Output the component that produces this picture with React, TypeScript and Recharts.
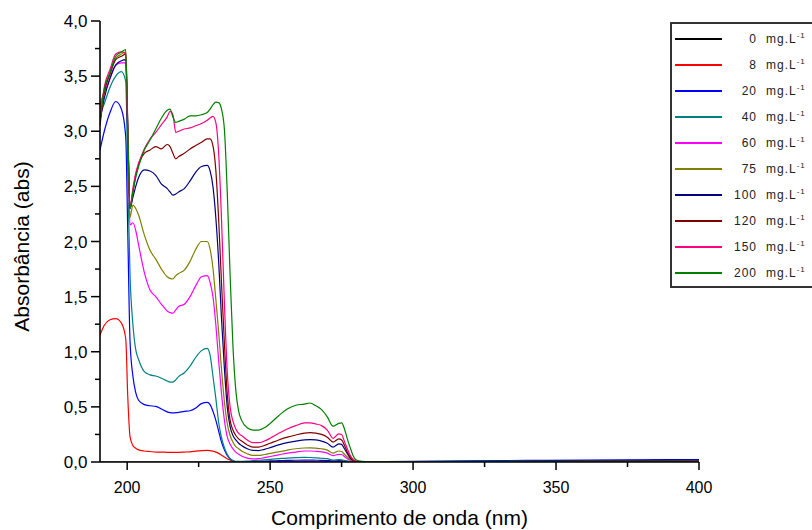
import React from 'react';
import { LineChart, Line, XAxis, YAxis, Legend } from 'recharts';

const FONT = '"Liberation Sans", Arial, Helvetica, sans-serif';

const wavelengths = [
  190.5, 192, 194, 196, 198, 199.5, 200.2, 201, 202, 203, 204, 206, 208, 210, 212, 214, 215, 216, 217, 218,
  220, 222, 224, 226, 228, 229, 230, 231, 232, 233, 234, 235, 236, 237, 238, 239, 240, 242, 244, 246,
  248, 250, 253, 256, 259, 262, 264, 266, 268, 270, 272, 274, 275, 276, 277, 278, 279, 280, 282, 285,
  290, 300, 320, 340, 360, 380, 400,
];

const abs0 = [
  0, 0, 0, 0, 0, 0, 0, 0, 0, 0, 0, 0, 0, 0, 0, 0, 0, 0, 0, 0,
  0, 0, 0, 0, 0, 0, 0, 0, 0, 0, 0, 0, 0, 0, 0, 0, 0, 0, 0, 0,
  0, 0, 0, 0, 0, 0, 0, 0, 0, 0, 0, 0, 0, 0, 0, 0, 0, 0, 0, 0,
  0, 0, 0, 0, 0, 0, 0,
];

const abs8 = [
  1.15, 1.24, 1.29, 1.3, 1.26, 1.12, 0.6, 0.23, 0.15, 0.125, 0.11, 0.1, 0.095, 0.09, 0.09, 0.088, 0.088, 0.088, 0.088, 0.088,
  0.09, 0.092, 0.098, 0.104, 0.106, 0.104, 0.098, 0.09, 0.078, 0.062, 0.045, 0.03, 0.018, 0.008, 0.002, 0, 0, 0, 0, 0,
  0, 0, 0, 0, 0, 0, 0, 0, 0, 0, 0, 0, 0, 0, 0, 0, 0, 0, 0, 0,
  0, 0, 0, 0, 0, 0, 0,
];

const abs20 = [
  2.83, 3.0, 3.17, 3.27, 3.2, 2.95, 2.1, 1.1, 0.78, 0.63, 0.56, 0.52, 0.51, 0.505, 0.48, 0.455, 0.448, 0.445, 0.447, 0.45,
  0.46, 0.465, 0.49, 0.53, 0.54, 0.52, 0.46, 0.38, 0.28, 0.18, 0.11, 0.06, 0.03, 0.012, 0.004, 0.002, 0.002, 0.003, 0.005, 0.007,
  0.008, 0.01, 0.012, 0.014, 0.016, 0.017, 0.017, 0.016, 0.015, 0.013, 0.01, 0.012, 0.012, 0.009, 0.006, 0.004, 0.003, 0.003, 0.003, 0.003,
  0.004, 0.006, 0.01, 0.014, 0.018, 0.02, 0.022,
];

const abs40 = [
  3.15, 3.25, 3.4, 3.5, 3.54, 3.45, 2.6, 1.7, 1.25, 1.02, 0.93, 0.82, 0.79, 0.78, 0.76, 0.735, 0.725, 0.725, 0.745, 0.775,
  0.81, 0.87, 0.95, 1.01, 1.03, 0.97, 0.78, 0.58, 0.36, 0.22, 0.13, 0.07, 0.03, 0.012, 0.005, 0.005, 0.006, 0.008, 0.012, 0.016,
  0.02, 0.024, 0.03, 0.036, 0.04, 0.042, 0.041, 0.038, 0.034, 0.03, 0.018, 0.022, 0.02, 0.014, 0.008, 0.004, 0.002, 0.002, 0.002, 0.002,
  0.003, 0.004, 0.006, 0.008, 0.01, 0.012, 0.013,
];

const abs60 = [
  3.25, 3.35, 3.48, 3.6, 3.62, 3.62, 3.0, 2.15, 2.17, 2.1, 1.97, 1.72, 1.56, 1.5, 1.43, 1.37, 1.355, 1.35, 1.38, 1.41,
  1.43, 1.5, 1.6, 1.68, 1.69, 1.63, 1.5, 1.25, 0.92, 0.62, 0.38, 0.23, 0.16, 0.12, 0.09, 0.07, 0.055, 0.035, 0.028, 0.03,
  0.04, 0.05, 0.065, 0.08, 0.09, 0.1, 0.1, 0.097, 0.092, 0.08, 0.058, 0.07, 0.068, 0.05, 0.03, 0.015, 0.006, 0.003, 0.002, 0.002,
  0.002, 0.003, 0.004, 0.005, 0.006, 0.007, 0.008,
];

const abs75 = [
  3.2, 3.38, 3.52, 3.66, 3.7, 3.72, 3.1, 2.22, 2.33, 2.3, 2.24, 2.06, 1.92, 1.84, 1.75, 1.68, 1.665, 1.66, 1.69, 1.71,
  1.74, 1.82, 1.93, 2.0, 2.0, 1.93, 1.76, 1.48, 1.18, 0.84, 0.55, 0.35, 0.24, 0.18, 0.14, 0.12, 0.1, 0.075, 0.06, 0.06,
  0.068, 0.078, 0.092, 0.108, 0.12, 0.127, 0.128, 0.125, 0.12, 0.108, 0.08, 0.1, 0.095, 0.07, 0.045, 0.022, 0.01, 0.004, 0.002, 0.002,
  0.002, 0.003, 0.004, 0.005, 0.006, 0.007, 0.008,
];

const abs100 = [
  3.1, 3.3, 3.48, 3.6, 3.64, 3.65, 3.0, 2.3, 2.4, 2.5, 2.58, 2.65, 2.64, 2.6, 2.52, 2.48, 2.45, 2.42, 2.43, 2.45,
  2.48, 2.55, 2.63, 2.68, 2.69, 2.64, 2.5, 2.22, 1.82, 1.3, 0.85, 0.5, 0.32, 0.24, 0.2, 0.17, 0.15, 0.12, 0.105, 0.104,
  0.115, 0.13, 0.155, 0.175, 0.19, 0.2, 0.203, 0.2, 0.19, 0.17, 0.135, 0.165, 0.16, 0.12, 0.075, 0.035, 0.015, 0.006, 0.003, 0.002,
  0.002, 0.003, 0.005, 0.008, 0.012, 0.015, 0.018,
];

const abs120 = [
  3.05, 3.35, 3.52, 3.65, 3.68, 3.7, 3.0, 2.3, 2.45, 2.6, 2.7, 2.8, 2.83, 2.86, 2.84, 2.88, 2.86, 2.8, 2.75, 2.77,
  2.8, 2.84, 2.87, 2.9, 2.93, 2.93, 2.87, 2.65, 2.2, 1.62, 1.08, 0.62, 0.38, 0.29, 0.24, 0.21, 0.19, 0.155, 0.135, 0.135,
  0.15, 0.17, 0.2, 0.225, 0.245, 0.262, 0.267, 0.262, 0.25, 0.225, 0.18, 0.21, 0.2, 0.15, 0.09, 0.045, 0.018, 0.007, 0.003, 0.002,
  0.002, 0.002, 0.003, 0.004, 0.005, 0.006, 0.007,
];

const abs150 = [
  3.1, 3.4, 3.56, 3.7, 3.72, 3.7, 3.05, 2.3, 2.48, 2.62, 2.71, 2.84, 2.93, 2.99, 3.06, 3.13, 3.18, 3.15, 2.99, 3.0,
  3.02, 3.03, 3.05, 3.07, 3.1, 3.12, 3.135, 3.08, 2.8, 2.2, 1.45, 0.82, 0.5, 0.37, 0.3, 0.26, 0.24, 0.2, 0.175, 0.175,
  0.19, 0.215, 0.26, 0.3, 0.33, 0.354, 0.355, 0.345, 0.33, 0.29, 0.215, 0.255, 0.25, 0.185, 0.12, 0.06, 0.025, 0.01, 0.003, 0.002,
  0.002, 0.002, 0.003, 0.004, 0.005, 0.006, 0.007,
];

const abs200 = [
  3.1, 3.38, 3.53, 3.68, 3.72, 3.74, 3.05, 2.3, 2.45, 2.58, 2.68, 2.83, 2.92, 3.02, 3.12, 3.19, 3.2, 3.13, 3.08, 3.09,
  3.11, 3.14, 3.14, 3.15, 3.17, 3.2, 3.24, 3.265, 3.26, 3.2, 3.02, 2.45, 1.7, 1.05, 0.65, 0.46, 0.38, 0.31, 0.29, 0.29,
  0.31, 0.35, 0.42, 0.48, 0.515, 0.525, 0.535, 0.51, 0.475, 0.41, 0.325, 0.35, 0.355, 0.3, 0.21, 0.13, 0.06, 0.02, 0.005, 0.002,
  0.002, 0.002, 0.003, 0.004, 0.005, 0.006, 0.007,
];

const concentrations = ['0', '8', '20', '40', '60', '75', '100', '120', '150', '200'];
const seriesValues = [abs0, abs8, abs20, abs40, abs60, abs75, abs100, abs120, abs150, abs200];
const colors = ['#000000', '#FF0000', '#0000FF', '#008080', '#FF00FF', '#808000', '#000080', '#800000', '#FF0080', '#008000'];

const xTicks = [200, 225, 250, 275, 300, 325, 350, 375, 400];
const yTicks = [0, 0.25, 0.5, 0.75, 1, 1.25, 1.5, 1.75, 2, 2.25, 2.5, 2.75, 3, 3.25, 3.5, 3.75, 4];

const rows = wavelengths.map((w, i) => {
  const r: Record<string, number> = { w };
  seriesValues.forEach((s, j) => {
    r['c' + j] = s[i];
  });
  return r;
});

function XTick(props: any) {
  const { x, y, payload } = props;
  const major = payload.value % 50 === 0;
  return (
    <g>
      <line x1={x} x2={x} y1={y} y2={y + (major ? 8 : 5)} stroke="#000" strokeWidth={1.5} />
      {major && (
        <text x={x} y={y + 31} textAnchor="middle" fontSize={16} fontFamily={FONT} fill="#000">
          {payload.value}
        </text>
      )}
    </g>
  );
}

function YTick(props: any) {
  const { x, y, payload } = props;
  const v = payload.value as number;
  const major = Math.abs(v * 2 - Math.round(v * 2)) < 1e-6;
  return (
    <g>
      <line x1={x} x2={x - (major ? 9 : 5)} y1={y} y2={y} stroke="#000" strokeWidth={1.5} />
      {major && (
        <text x={x - 12.5} y={y + 6} textAnchor="end" fontSize={17} fontFamily={FONT} fill="#000">
          {v.toFixed(1).replace('.', ',')}
        </text>
      )}
    </g>
  );
}

function XTitle(props: any) {
  const vb = props.viewBox || { x: 100, y: 462, width: 599, height: 40 };
  return (
    <text x={vb.x + vb.width / 2} y={vb.y + vb.height + 23} textAnchor="middle" fontSize={21} fontFamily={FONT} fill="#000">
      Comprimento de onda (nm)
    </text>
  );
}

function YTitle(props: any) {
  const vb = props.viewBox || { x: 0, y: 21, width: 100, height: 441 };
  const cx = vb.x + 29;
  const cy = vb.y + vb.height / 2 + 5;
  return (
    <text x={cx} y={cy} transform={`rotate(-90, ${cx}, ${cy})`} textAnchor="middle" fontSize={21} fontFamily={FONT} fill="#000">
      Absorbância (abs)
    </text>
  );
}

function LegendBox() {
  return (
    <svg width={200} height={266} style={{ display: 'block', overflow: 'visible' }}>
      <rect x={1} y={1} width={200} height={264} fill="#fff" stroke="#333" strokeWidth={2} />
      {concentrations.map((c, i) => {
        const cy = 17 + 26 * i;
        return (
          <g key={c}>
            <line x1={5} x2={52} y1={cy} y2={cy} stroke={colors[i]} strokeWidth={2} />
            <text x={87} y={cy + 4} textAnchor="end" fontSize={12} letterSpacing={1} fontFamily={FONT} fill="#222">
              {c}
            </text>
            <text x={96} y={cy + 4} fontSize={12} letterSpacing={1} fontFamily={FONT} fill="#222">
              mg.L
              <tspan dy={-5} fontSize={8}>-1</tspan>
            </text>
          </g>
        );
      })}
    </svg>
  );
}

export default function App() {
  return (
    <div style={{ position: 'absolute', left: 0, top: 0, width: 812, height: 530, overflow: 'hidden', background: '#fff' }}>
      <LineChart width={812} height={530} data={rows} margin={{ top: 21, right: 113, bottom: 28, left: 0 }}>
        <XAxis
          dataKey="w"
          type="number"
          domain={[190.5, 400]}
          allowDataOverflow
          ticks={xTicks}
          interval={0}
          height={40}
          tickSize={0}
          tickMargin={0}
          tickLine={false}
          axisLine={{ stroke: '#000', strokeWidth: 1.6 }}
          tick={<XTick />}
          label={<XTitle />}
        />
        <YAxis
          type="number"
          domain={[0, 4]}
          allowDataOverflow
          ticks={yTicks}
          interval={0}
          width={100}
          tickSize={0}
          tickMargin={0}
          tickLine={false}
          axisLine={{ stroke: '#000', strokeWidth: 1.6 }}
          tick={<YTick />}
          label={<YTitle />}
        />
        <Legend
          layout="vertical"
          align="center"
          verticalAlign="middle"
          content={<LegendBox />}
          wrapperStyle={{ left: 670, top: 22, width: 200, height: 266 }}
        />
        {concentrations.map((c, j) => (
          <Line
            key={c}
            type="monotone"
            dataKey={'c' + j}
            name={c + ' mg.L-1'}
            stroke={colors[j]}
            strokeWidth={1.2}
            dot={false}
            activeDot={false}
            isAnimationActive={false}
          />
        ))}
      </LineChart>
    </div>
  );
}
